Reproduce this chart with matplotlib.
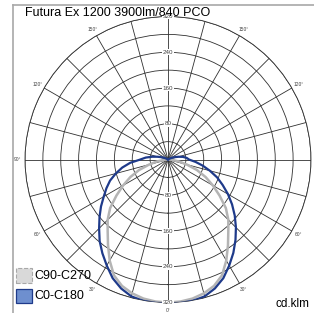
import numpy as np
import matplotlib
matplotlib.use("Agg")
import matplotlib.pyplot as plt
from matplotlib.lines import Line2D
from matplotlib.patches import Rectangle

plt.rcParams['font.family'] = ['Liberation Sans', 'DejaVu Sans']

title = "Futura Ex 1200 3900lm/840 PCO"
unit = "cd.klm"

# gamma angles (deg) and intensities (cd/klm)
gamma = [0, 5, 10, 15, 20, 25, 30, 35, 40, 45, 50, 55, 60, 65, 70, 75,
         80, 85, 90, 95, 100, 105, 110, 115, 120, 125]
c0 = [322, 322, 321, 317, 307, 293, 274, 255, 235, 215, 195, 175, 155, 135, 117, 97,
      79, 62, 47, 42, 34, 24, 15, 8, 3, 0]
c180 = [322, 322, 321, 317, 307, 293, 274, 256, 238, 218, 200, 183, 166, 152, 138, 121,
        104, 85, 62, 50, 36, 24, 15, 8, 3, 0]
c90 = [320, 319, 316, 310, 301, 286, 261, 234, 210, 191, 169, 141, 116, 93, 69, 44,
       25, 10, 3, 0, 0, 0, 0, 0, 0, 0]

series = ["C90-C270", "C0-C180"]
r_ticks = [80, 160, 240, 320]
angle_labels = [0, 30, 60, 90, 120, 150]

grid_col = '#303030'
gray_col = '#b4b4b4'
blue_col = '#1e3a8a'

fig = plt.figure(figsize=(3.14, 3.13), dpi=100)
ax = fig.add_axes([0.0796, 0.0335, 0.9108, 0.9137], projection='polar')
ax.set_theta_zero_location('S')
ax.set_rlim(0, 320)

g = np.radians(gamma)
# C90-C270 (symmetric), both halves
ax.plot(g, c90, color=gray_col, lw=1.8, zorder=3)
ax.plot(-g, c90, color=gray_col, lw=1.8, zorder=3)
# C0-C180
ax.plot(g, c0, color=blue_col, lw=1.6, zorder=4)
ax.plot(-g, c180, color=blue_col, lw=1.6, zorder=4)

ax.set_rgrids(np.arange(40, 321, 40), labels=[])
ax.set_thetagrids(np.arange(0, 360, 15), labels=[])
ax.grid(True, color=grid_col, lw=0.6)
ax.spines['polar'].set_color(grid_col)
ax.spines['polar'].set_linewidth(0.6)

for rv in r_ticks:
    for th in (0, np.pi):
        ax.text(th, rv, str(rv), fontsize=4.5, color='#404040', ha='center', va='center',
                zorder=5, bbox=dict(facecolor='white', edgecolor='none', pad=0.3))

for a in angle_labels:
    for th in {np.radians(a), -np.radians(a)}:
        ax.text(th, 337, f"{a}°", fontsize=3.5, color='#404040', ha='center', va='center',
                clip_on=False)

fig.text(25 / 314, 1 - 13 / 313, title, fontsize=9, ha='left', va='center')
fig.text(310 / 314, 1 - 304 / 313, unit, fontsize=8.5, ha='right', va='center')

# legend
fig.add_artist(Rectangle((16 / 314, 1 - 283 / 313), 16 / 314, 15 / 313, transform=fig.transFigure,
                         facecolor='#d9d9d9', edgecolor='#a8a8a8', lw=0.8, ls='--'))
fig.add_artist(Rectangle((16 / 314, 1 - 303 / 313), 16 / 314, 14 / 313, transform=fig.transFigure,
                         facecolor='#6e8fcf', edgecolor='#1e3a8a', lw=0.9))
fig.text(34 / 314, 1 - 276 / 313, series[0], fontsize=9, ha='left', va='center')
fig.text(34 / 314, 1 - 296 / 313, series[1], fontsize=9, ha='left', va='center')

# frame
fig.add_artist(Line2D([13 / 314, 13 / 314], [0, 1 - 5 / 313], transform=fig.transFigure,
                      color='#a8a8a8', lw=1.2))
fig.add_artist(Line2D([13 / 314, 1], [1 - 5 / 313, 1 - 5 / 313], transform=fig.transFigure,
                      color='#a8a8a8', lw=1.2))

fig.savefig("out.png", dpi=100)
